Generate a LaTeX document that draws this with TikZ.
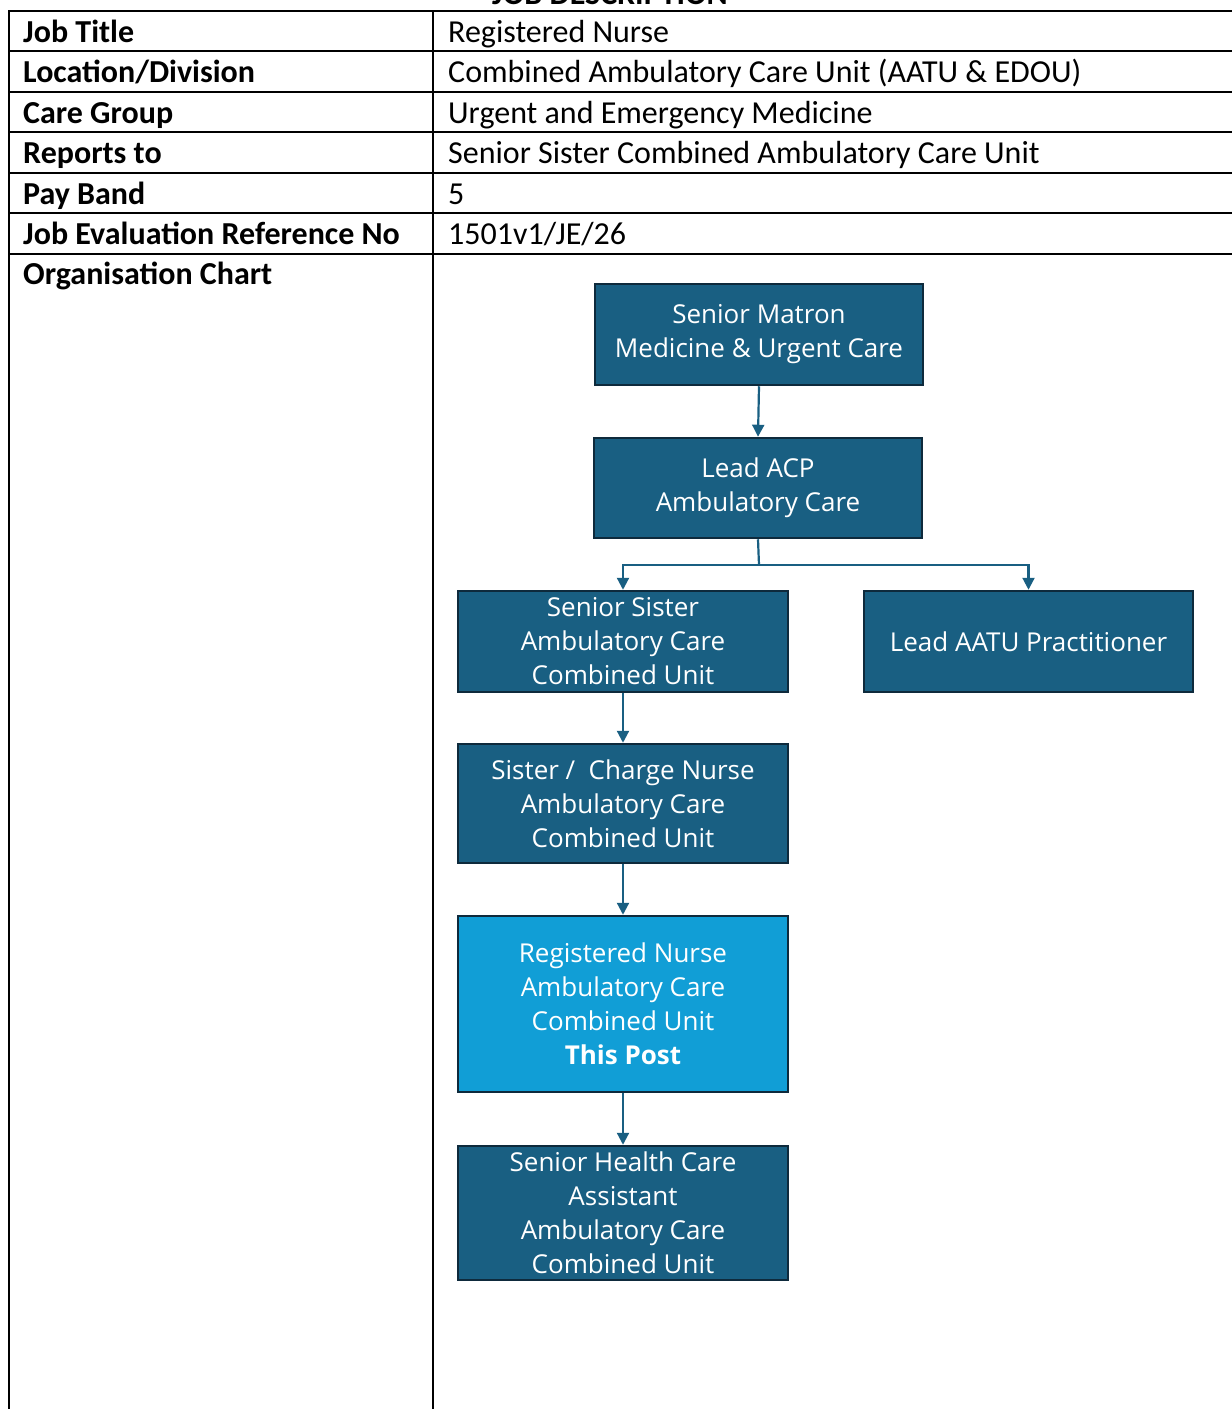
\documentclass[tikz,border=0pt]{standalone}
\usepackage{fontspec}
\setmainfont{Carlito}
\newfontfamily\chartfont{Open Sans}
\usetikzlibrary{arrows.meta}
\definecolor{boxdark}{HTML}{195F82}
\definecolor{boxlight}{HTML}{119ED6}
\definecolor{boxline}{HTML}{0E2A3C}
\tikzset{
  grid/.style={line width=2pt, black},
  lbl/.style={anchor=base west, font=\fontsize{32}{38}\selectfont\bfseries, inner sep=0pt},
  val/.style={anchor=base west, font=\fontsize{32}{38}\selectfont, inner sep=0pt},
  orgbox/.style={draw=boxline, line width=2.5pt, fill=boxdark, text=white,
    font=\chartfont\fontsize{26}{34}\selectfont, align=center, inner sep=0pt},
  thispost/.style={orgbox, fill=boxlight},
  link/.style={draw=boxdark, line width=2.2pt, -{Triangle[length=12pt,width=12pt]}},
  plainlink/.style={draw=boxdark, line width=2.2pt}
}
\begin{document}
\begin{tikzpicture}[x=1pt,y=-1pt]
\useasboundingbox (0,0) rectangle (1232,1409);
\node[anchor=base, font=\fontsize{32}{38}\selectfont\bfseries, inner sep=0pt] (title) at (610,4) {JOB DESCRIPTION};
% table grid
\draw[grid] (9,11) -- (1240,11);
\foreach \yy in {51,92,132,173,213,254} \draw[grid] (9,\yy) -- (1240,\yy);
\draw[grid] (9,10) -- (9,1420);
\draw[grid] (433,10) -- (433,1420);
% labels
\node[lbl] (l1) at (23,42) {Job Title};
\node[lbl] (l2) at (23,82) {Location/Division};
\node[lbl] (l3) at (23,123) {Care Group};
\node[lbl] (l4) at (23,163) {Reports to};
\node[lbl] (l5) at (23,204) {Pay Band};
\node[lbl] (l6) at (23,244) {Job Evaluation Reference No};
\node[lbl] (l7) at (23,284) {Organisation Chart};
% values
\node[val] (v1) at (448,42) {Registered Nurse};
\node[val] (v2) at (448,82) {Combined Ambulatory Care Unit (AATU \& EDOU)};
\node[val] (v3) at (448,123) {Urgent and Emergency Medicine};
\node[val] (v4) at (448,163) {Senior Sister Combined Ambulatory Care Unit};
\node[val] (v5) at (448,204) {5};
\node[val] (v6) at (448,244) {1501v1/JE/26};
% org chart
\node[orgbox, minimum width=328pt, minimum height=101pt] (matron) at (759,334.5) {Senior Matron\\Medicine \& Urgent Care};
\node[orgbox, minimum width=328pt, minimum height=100pt] (acp) at (758,488) {Lead ACP\\Ambulatory Care};
\node[orgbox, minimum width=330pt, minimum height=101pt] (ssister) at (623,641.5) {Senior Sister\\Ambulatory Care\\Combined Unit};
\node[orgbox, minimum width=329pt, minimum height=101pt] (aatu) at (1028.5,641.5) {Lead AATU Practitioner};
\node[orgbox, minimum width=330pt, minimum height=119pt] (sister) at (623,803.5) {Sister /\ \ Charge Nurse\\Ambulatory Care\\Combined Unit};
\node[thispost, minimum width=330pt, minimum height=176pt] (rn) at (623,1004) {Registered Nurse\\Ambulatory Care\\Combined Unit\\\textbf{This Post}};
\node[orgbox, minimum width=330pt, minimum height=134pt] (hca) at (623,1213) {Senior Health Care\\Assistant\\Ambulatory Care\\Combined Unit};
\coordinate (split) at (759,565);
\draw[link] (matron.south) -- (acp.north);
\draw[plainlink] (acp.south) -- (split);
\draw[link] (split) -| (ssister.north);
\draw[link] (split) -| (aatu.north);
\draw[link] (ssister.south) -- (sister.north);
\draw[link] (sister.south) -- (rn.north);
\draw[link] (rn.south) -- (hca.north);
\end{tikzpicture}
\end{document}
